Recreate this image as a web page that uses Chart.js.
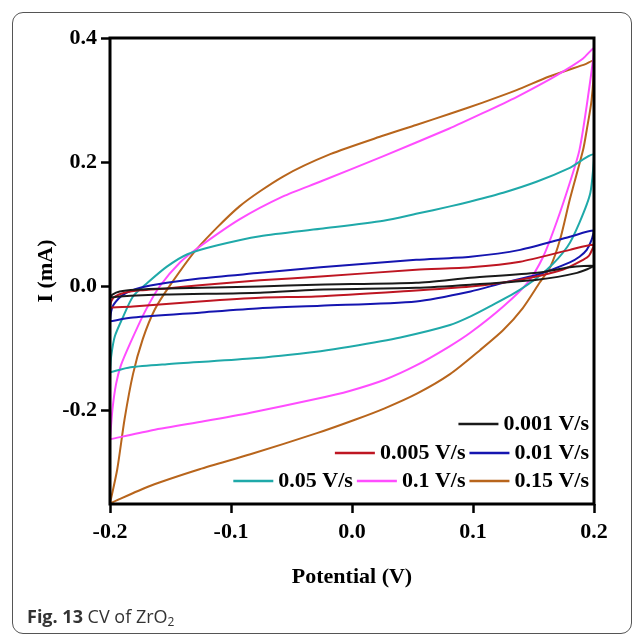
<!DOCTYPE html>
<html>
<head>
<meta charset="utf-8">
<script src="https://cdn.jsdelivr.net/npm/chart.js@4.4.1/dist/chart.umd.min.js"></script>
<style>
  html, body { margin: 0; padding: 0; background: #fff; }
  #wrap { position: relative; width: 636px; height: 636px; overflow: hidden; }
  #chart { position: absolute; left: 0; top: 0; }
  #frame {
    position: absolute; left: 12px; top: 12px; width: 620px; height: 622px;
    border: 1.5px solid #555; border-radius: 11px; box-sizing: border-box; pointer-events: none;
  }
  #caption {
    position: absolute; left: 27px; top: 604px; line-height: 24px;
    font-family: 'Open Sans', sans-serif; font-size: 18px; color: #333; white-space: nowrap;
  }
  #caption b { font-weight: 700; }
  #caption sub { font-size: 12px; vertical-align: -3px; line-height: 0; }
</style>
</head>
<body>
<div id="wrap">
  <canvas id="chart" width="636" height="636"></canvas>
  <div id="frame"></div>
  <div id="caption"><b>Fig. 13</b> CV of ZrO<sub>2</sub></div>
</div>
<script>
// tick labels
const xTicks = [-0.2, -0.1, 0, 0.1, 0.2];
const yTicks = [-0.2, 0, 0.2, 0.4];

// scan rates (legend)
const labels = ['0.001 V/s', '0.005 V/s', '0.01 V/s', '0.05 V/s', '0.1 V/s', '0.15 V/s'];
const colors = ['#1a1a1a', '#be1622', '#1515b0', '#1fa9a9', '#ff4dff', '#b8651c'];

// each loop: forward scan -0.2 -> 0.2, then reverse 0.2 -> -0.2  (potential V, current mA)
const vBlack = [-0.200, -0.198, -0.192, -0.179, -0.153, -0.076, -0.030, 0.053, 0.098, 0.153, 0.180, 0.200,
                0.186, 0.153, 0.098, 0.053, -0.030, -0.076, -0.153, -0.192, -0.200];
const iBlack = [-0.018, -0.013, -0.008, -0.005, -0.003, 0.000, 0.003, 0.006, 0.014, 0.022, 0.031, 0.033,
                0.022, 0.011, 0.003, -0.002, -0.005, -0.010, -0.013, -0.016, -0.018];

const vRed = [-0.200, -0.199, -0.196, -0.188, -0.175, -0.153, -0.126, -0.076, -0.026, 0.053, 0.098, 0.139, 0.180, 0.200,
              0.196, 0.191, 0.174, 0.139, 0.098, 0.040, -0.030, -0.076, -0.126, -0.181, -0.200];
const iRed = [-0.034, -0.024, -0.016, -0.010, -0.006, -0.003, 0.002, 0.010, 0.016, 0.027, 0.031, 0.040, 0.059, 0.067,
              0.050, 0.043, 0.027, 0.011, 0.000, -0.008, -0.016, -0.018, -0.024, -0.032, -0.034];

const vBlue = [-0.200, -0.199, -0.197, -0.189, -0.175, -0.153, -0.126, -0.076, -0.026, 0.053, 0.098, 0.139, 0.180, 0.200,
               0.198, 0.194, 0.188, 0.180, 0.153, 0.125, 0.098, 0.053, -0.026, -0.076, -0.126, -0.181, -0.200];
const iBlue = [-0.056, -0.040, -0.029, -0.013, -0.002, 0.006, 0.013, 0.022, 0.031, 0.043, 0.048, 0.059, 0.080, 0.090,
               0.075, 0.059, 0.048, 0.039, 0.019, 0.006, -0.008, -0.024, -0.031, -0.035, -0.042, -0.050, -0.056];

const vTeal = [-0.200, -0.199, -0.196, -0.189, -0.181, -0.169, -0.153, -0.136, -0.112, -0.076, -0.026, 0.026, 0.053, 0.081, 0.098, 0.125, 0.153, 0.180, 0.200,
               0.197, 0.188, 0.178, 0.161, 0.139, 0.114, 0.098, 0.081, 0.040, -0.002, -0.026, -0.084, -0.153, -0.183, -0.200];
const iTeal = [-0.138, -0.112, -0.080, -0.048, -0.016, 0.006, 0.032, 0.052, 0.066, 0.081, 0.093, 0.106, 0.117, 0.129, 0.137, 0.151, 0.169, 0.191, 0.212,
               0.151, 0.103, 0.064, 0.027, -0.005, -0.032, -0.048, -0.062, -0.082, -0.097, -0.104, -0.116, -0.125, -0.130, -0.138];

const vPink = [-0.200, -0.198, -0.195, -0.191, -0.183, -0.171, -0.159, -0.142, -0.126, -0.093, -0.057, -0.026, 0.026, 0.080, 0.108, 0.136, 0.163, 0.177, 0.191, 0.200,
               0.195, 0.188, 0.180, 0.169, 0.158, 0.145, 0.125, 0.098, 0.080, 0.053, 0.027, -0.002, -0.030, -0.084, -0.126, -0.167, -0.200];
const iPink = [-0.246, -0.198, -0.157, -0.127, -0.090, -0.040, 0.000, 0.039, 0.064, 0.108, 0.145, 0.169, 0.210, 0.254, 0.279, 0.305, 0.333, 0.349, 0.367, 0.383,
               0.305, 0.220, 0.167, 0.103, 0.048, 0.006, -0.032, -0.074, -0.097, -0.127, -0.150, -0.168, -0.181, -0.203, -0.218, -0.232, -0.246];

const vBrown = [-0.200, -0.194, -0.188, -0.181, -0.173, -0.163, -0.150, -0.128, -0.093, -0.057, -0.018, 0.026, 0.053, 0.081, 0.108, 0.136, 0.163, 0.193, 0.200,
                0.198, 0.194, 0.191, 0.180, 0.172, 0.164, 0.155, 0.141, 0.125, 0.106, 0.081, 0.054, 0.027, 0.003, -0.029, -0.084, -0.126, -0.167, -0.200];
const iBrown = [-0.349, -0.294, -0.214, -0.141, -0.085, -0.037, 0.003, 0.061, 0.129, 0.177, 0.213, 0.243, 0.260, 0.278, 0.296, 0.316, 0.338, 0.358, 0.363,
                0.300, 0.252, 0.220, 0.140, 0.076, 0.032, 0.006, -0.035, -0.070, -0.102, -0.141, -0.172, -0.196, -0.214, -0.236, -0.270, -0.294, -0.321, -0.349];

const loops = [[vBlack, iBlack], [vRed, iRed], [vBlue, iBlue], [vTeal, iTeal], [vPink, iPink], [vBrown, iBrown]];
const legendRows = [[0], [1, 2], [3, 4, 5]];

const serif = "'Liberation Serif', 'Times New Roman', serif";
const fmt = v => Math.abs(v) < 1e-9 ? '0.0' : v.toFixed(1);

const datasets = loops.map(([vs, is], k) => ({
    label: labels[k],
    data: vs.map((v, j) => ({ x: v, y: is[j] })),
    showLine: true,
    borderColor: colors[k],
    borderWidth: 2,
    pointRadius: 0,
    tension: 0.25,
    fill: false
}));

// thick box round the plot + the custom three-row legend
const boxAndLegend = {
    id: 'boxAndLegend',
    afterDatasetsDraw(chart) {
        const { ctx, chartArea: a } = chart;
        ctx.save();
        ctx.strokeStyle = '#000';
        ctx.lineWidth = 3;
        ctx.strokeRect(a.left, a.top, a.right - a.left, a.bottom - a.top);

        ctx.font = 'bold 22px ' + serif;
        ctx.textBaseline = 'middle';
        ctx.fillStyle = '#000';
        const rowY = [a.bottom - 80, a.bottom - 51, a.bottom - 23];
        legendRows.forEach((row, r) => {
            let x = a.right - 5;
            for (let n = row.length - 1; n >= 0; n--) {
                const k = row[n];
                const w = ctx.measureText(labels[k]).width;
                ctx.fillText(labels[k], x - w, rowY[r]);
                const lineEnd = x - w - 5;
                ctx.beginPath();
                ctx.strokeStyle = colors[k];
                ctx.lineWidth = 2.5;
                ctx.moveTo(lineEnd - 40, rowY[r]);
                ctx.lineTo(lineEnd, rowY[r]);
                ctx.stroke();
                x = lineEnd - 44;
            }
        });
        ctx.restore();
    }
};

const tickFont = { family: serif, size: 22, weight: 'bold' };

new Chart(document.getElementById('chart'), {
    type: 'scatter',
    data: { datasets },
    options: {
        responsive: false,
        animation: false,
        devicePixelRatio: 1,
        layout: { padding: { left: 0, right: 42, top: 38, bottom: 0 } },
        plugins: { legend: { display: false }, tooltip: { enabled: false } },
        scales: {
            x: {
                type: 'linear', min: -0.2, max: 0.2,
                afterBuildTicks: s => { s.ticks = xTicks.map(v => ({ value: v })); },
                afterFit: s => { s.height = 132; },
                border: { display: false },
                grid: { drawOnChartArea: false, tickLength: 9, tickWidth: 2.5, tickColor: '#000' },
                ticks: { callback: fmt, font: tickFont, color: '#000', padding: 6, maxRotation: 0, autoSkip: false },
                title: { display: true, text: 'Potential (V)', color: '#000', font: { family: serif, size: 22, weight: 'bold', lineHeight: 1.2 }, padding: { top: 0, bottom: 45 } }
            },
            y: {
                type: 'linear', min: -0.35, max: 0.4,
                afterBuildTicks: s => { s.ticks = yTicks.map(v => ({ value: v })); },
                afterFit: s => { s.width = 110; },
                border: { display: false },
                grid: { drawOnChartArea: false, tickLength: 9, tickWidth: 2.5, tickColor: '#000' },
                ticks: { callback: fmt, font: tickFont, color: '#000', padding: 4, autoSkip: false },
                title: { display: true, text: 'I (mA)', color: '#000', font: { family: serif, size: 22, weight: 'bold', lineHeight: 1.2 }, padding: { top: 33, bottom: 0 } }
            }
        }
    },
    plugins: [boxAndLegend]
});
</script>
</body>
</html>
